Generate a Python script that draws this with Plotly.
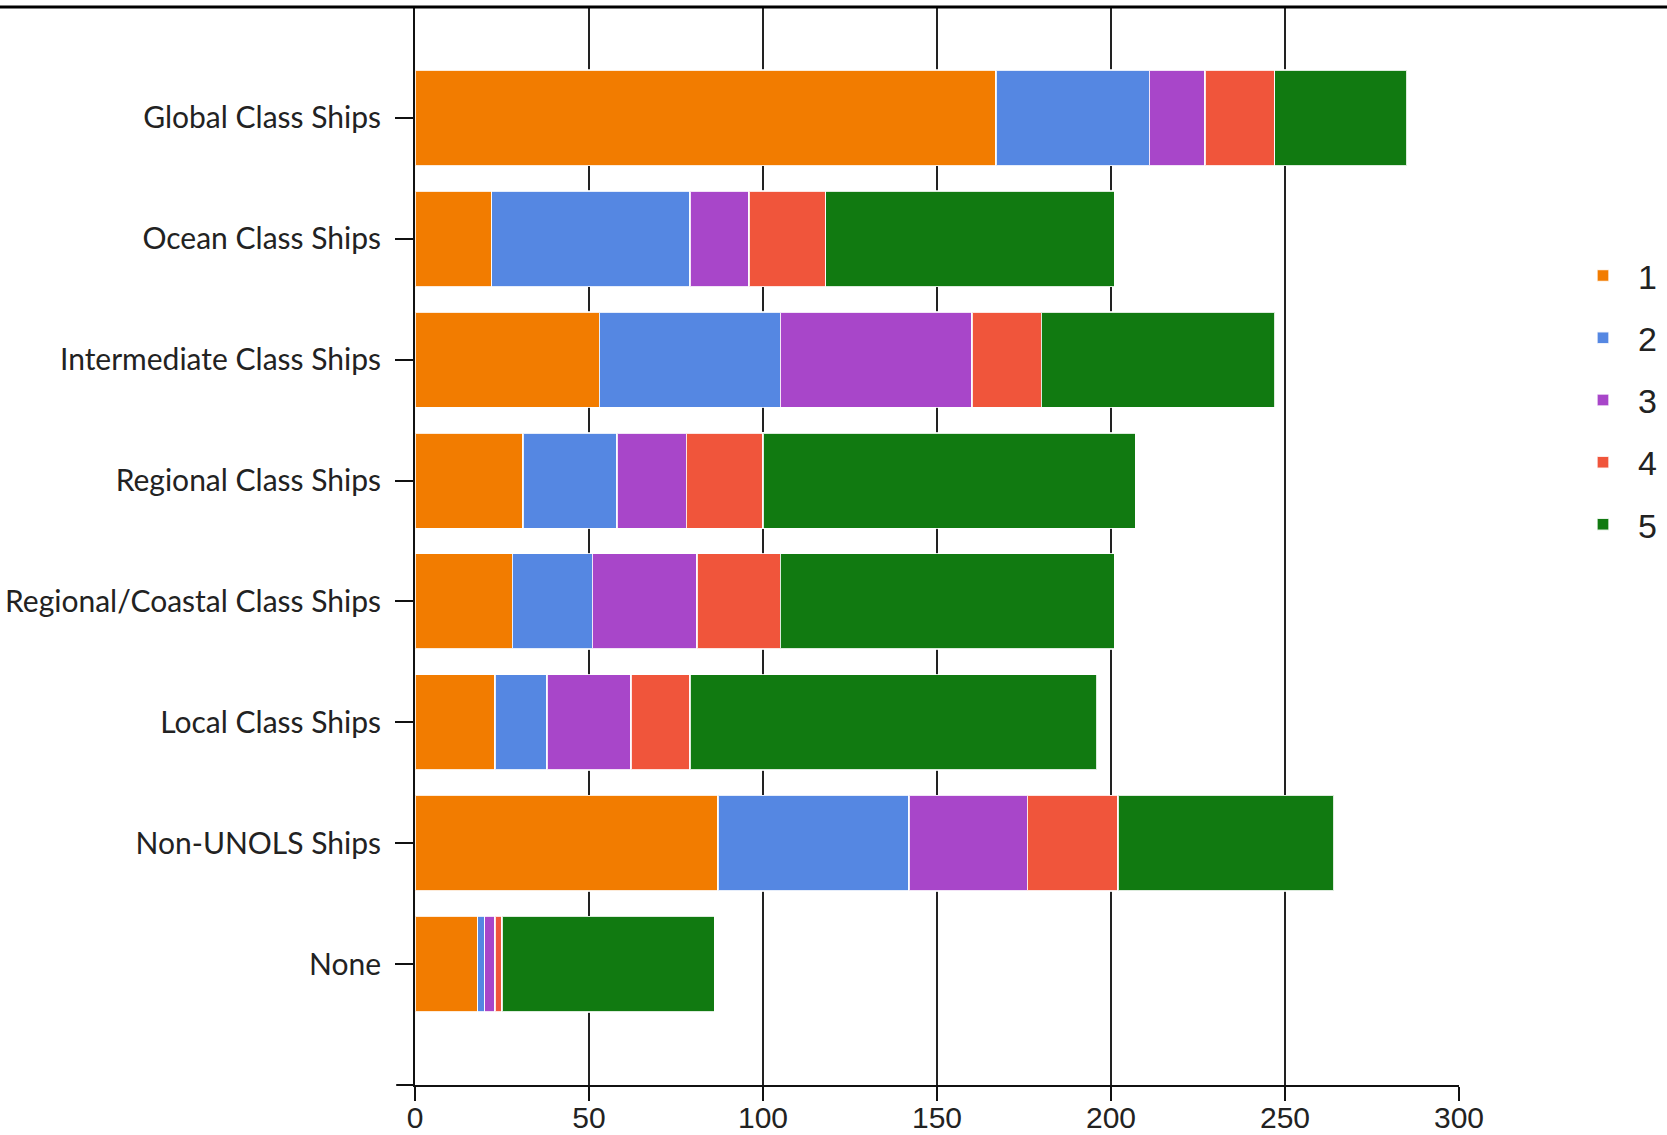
import plotly.graph_objects as go

categories = ["Global Class Ships", "Ocean Class Ships", "Intermediate Class Ships",
              "Regional Class Ships", "Regional/Coastal Class Ships", "Local Class Ships",
              "Non-UNOLS Ships", "None"]
series_names = ["1", "2", "3", "4", "5"]
s1 = [167, 22, 53, 31, 28, 23, 87, 18]
s2 = [44, 57, 52, 27, 23, 15, 55, 2]
s3 = [16, 17, 55, 20, 30, 24, 34, 3]
s4 = [20, 22, 20, 22, 24, 17, 26, 2]
s5 = [38, 83, 67, 107, 96, 117, 62, 61]
colors = ["#F27C00", "#5587E2", "#A846C9", "#F0553B", "#117A11"]
x_ticks = [0, 50, 100, 150, 200, 250, 300]

fig = go.Figure()
for name, vals, col in zip(series_names, [s1, s2, s3, s4, s5], colors):
    fig.add_trace(go.Bar(
        y=categories, x=vals, name=name, orientation="h",
        marker=dict(color=col, line=dict(color="rgba(255,255,255,0.85)", width=1.5)),
        legendgroup=name,
    ))

fig.update_layout(
    barmode="stack",
    bargap=0.21,
    width=1667, height=1135,
    margin=dict(l=415, r=208, t=7, b=50, autoexpand=False),
    paper_bgcolor="white", plot_bgcolor="white",
    showlegend=True,
    legend=dict(
        xref="container", yref="container",
        x=0.9406, xanchor="left", y=0.6476, yanchor="middle",
        font=dict(family="Liberation Sans", size=34, color="#222"),
        traceorder="grouped", tracegroupgap=15, itemwidth=60,
    ),
    shapes=[
        dict(type="line", xref="paper", yref="paper", x0=-0.5, x1=1.5, y0=1.0, y1=1.0,
             line=dict(color="black", width=3)),
        dict(type="line", xref="paper", yref="paper", x0=-0.018, x1=0, y0=0, y1=0,
             line=dict(color="#111", width=2)),
    ],
)
fig.update_xaxes(
    range=[0, 300], tickvals=x_ticks, ticktext=[str(v) for v in x_ticks],
    showgrid=True, gridcolor="#222", gridwidth=2,
    showline=True, linecolor="#111", linewidth=2,
    ticks="outside", ticklen=14, tickwidth=2, tickcolor="#111",
    tickfont=dict(family="Liberation Sans", size=30, color="#222"),
    ticklabelstandoff=-9,
    automargin=False,
    zeroline=False,
)
fig.update_yaxes(
    categoryorder="array", categoryarray=categories,
    range=[8.0, -0.917],
    showgrid=False, showline=True, linecolor="#111", linewidth=2,
    ticks="outside", ticklen=18, tickwidth=2, tickcolor="#111",
    tickfont=dict(family="Lato", size=30, color="#222"),
    ticklabelstandoff=8,
    automargin=False,
    zeroline=False,
)
fig.write_html("out.html", config={"displayModeBar": False},
               post_script="document.body.style.margin='0';document.body.style.overflow='hidden';")
